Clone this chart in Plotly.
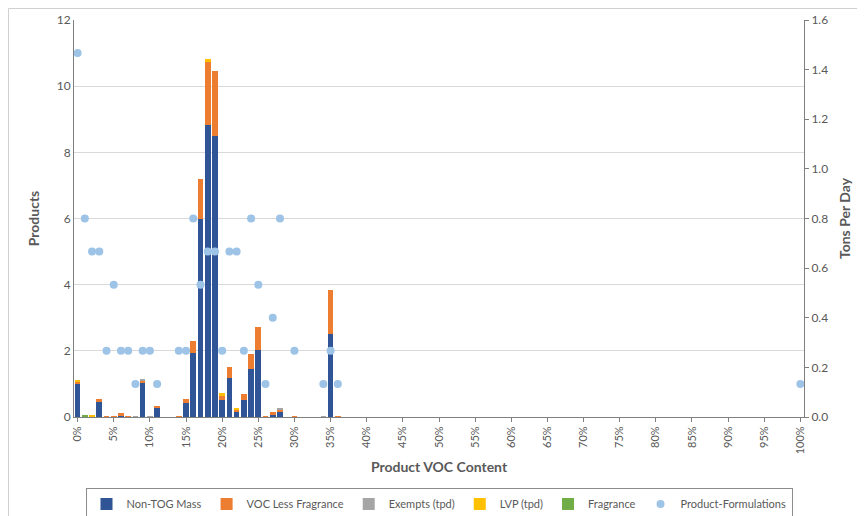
import plotly.graph_objects as go

# Product VOC content categories (0%..100%)
voc_pct = list(range(0, 101))
tick_vals = list(range(0, 101, 5))
tick_text = [f"{v}%" for v in tick_vals]

# Bars (tons per day), sparse: category -> value
nontog_x = [0, 3, 6, 9, 11, 15, 16, 17, 18, 19, 20, 21, 22, 23, 24, 25, 27, 28, 35]
nontog_y = [0.137, 0.064, 0.007, 0.136, 0.037, 0.057, 0.259, 0.799, 1.177, 1.133,
            0.068, 0.156, 0.024, 0.068, 0.192, 0.269, 0.008, 0.019, 0.333]

vocless_x = [0, 3, 4, 5, 6, 7, 9, 10, 11, 14, 15, 16, 17, 18, 19, 20, 21, 22, 23,
             24, 25, 26, 27, 28, 30, 34, 35, 36]
vocless_y = [0.004, 0.008, 0.003, 0.004, 0.008, 0.004, 0.011, 0.002, 0.009, 0.003,
             0.015, 0.049, 0.161, 0.257, 0.261, 0.016, 0.044, 0.007, 0.024, 0.061,
             0.092, 0.004, 0.011, 0.012, 0.004, 0.0015, 0.179, 0.003]

exempt_x = [8, 9, 10, 28, 34]
exempt_y = [0.004, 0.008, 0.002, 0.007, 0.002]

lvp_x = [0, 2, 18, 20, 22]
lvp_y = [0.009, 0.007, 0.007, 0.011, 0.007]

frag_x = [1]
frag_y = [0.007]

# Product formulations (count of products)
prod_x = [0, 1, 2, 3, 4, 5, 6, 7, 8, 9, 10, 11, 14, 15, 16, 17, 18, 19, 20, 21,
          22, 23, 24, 25, 26, 27, 28, 30, 34, 35, 36, 100]
prod_y = [11, 6, 5, 5, 2, 4, 2, 2, 1, 2, 2, 1, 2, 2, 6, 4, 5, 5, 2, 5,
          5, 2, 6, 4, 1, 3, 6, 2, 1, 2, 1, 1]

FONT = "Lato, Carlito, Liberation Sans, sans-serif"
TXT = "#595959"

fig = go.Figure()
bar_series = [
    ("Non-TOG Mass", nontog_x, nontog_y, "#2F5597"),
    ("VOC Less Fragrance", vocless_x, vocless_y, "#ED7D31"),
    ("Exempts (tpd)", exempt_x, exempt_y, "#A5A5A5"),
    ("LVP (tpd)", lvp_x, lvp_y, "#FFC000"),
    ("Fragrance", frag_x, frag_y, "#70AD47"),
]
for name, xs, ys, col in bar_series:
    fig.add_trace(go.Bar(x=xs, y=ys, name=name, marker=dict(color=col, line_width=0),
                         yaxis="y", xaxis="x"))

fig.add_trace(go.Scatter(x=prod_x, y=prod_y, mode="markers", name="Product-Formulations",
                         marker=dict(color="#9DC3E6", size=8), yaxis="y2"))

fig.update_layout(
    width=857, height=508,
    margin=dict(l=66, r=61, t=12, b=99, autoexpand=False),
    paper_bgcolor="white", plot_bgcolor="white",
    font=dict(family=FONT, size=12, color=TXT),
    barmode="stack", bargap=0.22,
    showlegend=True,
    legend=dict(orientation="h", x=0.5, xanchor="center",
                y=-0.18, yanchor="top",
                bordercolor="#8c8c8c", borderwidth=1, font=dict(size=11, color=TXT),
                traceorder="normal", itemwidth=30, tracegroupgap=0),
    xaxis=dict(range=[-0.5, 100.5], tickmode="array", tickvals=tick_vals, ticktext=tick_text,
               tickangle=-90, ticks="outside", ticklen=4, tickcolor="#7f7f7f", automargin=False,
               showline=True, linecolor="#7f7f7f", linewidth=1, showgrid=False,
               title=dict(text="<b>Product VOC Content</b>", font=dict(size=14, color=TXT), standoff=8),
               tickfont=dict(size=11, color=TXT)),
    yaxis=dict(side="right", range=[0, 1.6], dtick=0.2, tickformat=".1f", automargin=False,
               ticks="outside", ticklen=4, tickcolor="#7f7f7f",
               showline=True, linecolor="#7f7f7f", linewidth=1, showgrid=False, zeroline=False,
               title=dict(text="<b>Tons Per Day</b>", font=dict(size=14, color=TXT), standoff=13),
               tickfont=dict(size=12, color=TXT)),
    yaxis2=dict(side="left", overlaying="y", range=[0, 12], dtick=2, automargin=False,
                showline=True, linecolor="#7f7f7f", linewidth=1,
                showgrid=True, gridcolor="#d9d9d9", zeroline=False,
                title=dict(text="<b>Products</b>", font=dict(size=14, color=TXT), standoff=13),
                tickfont=dict(size=12, color=TXT)),
    shapes=[
        dict(type="line", xref="paper", yref="paper", x0=-0.0897, x1=-0.0897, y0=1.029, y1=-0.3,
             line=dict(color="#d0d0d0", width=1)),
        dict(type="line", xref="paper", yref="paper", x0=-0.0897, x1=1.1, y0=1.029, y1=1.029,
             line=dict(color="#d0d0d0", width=1)),
    ],
)

fig.write_html("out.html")
